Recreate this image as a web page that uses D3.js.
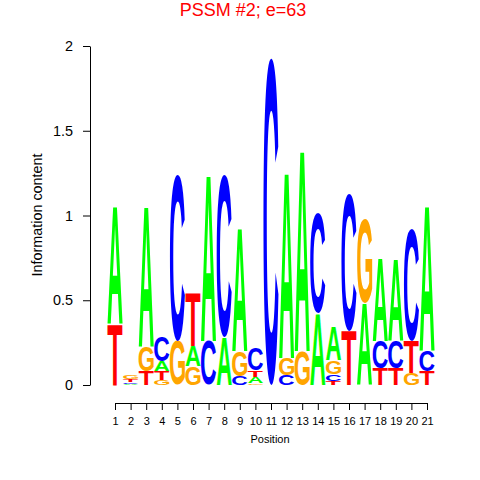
<!DOCTYPE html>
<meta charset="utf-8">
<head>
    <title>PSSM #2</title>
</head>
<style>
    body { margin: 0; background: white; }
    text { font-family: "Liberation Sans", Arial, sans-serif; }
    .axis path, .axis line { stroke: black; }
</style>
<body>
<script src="https://cdn.jsdelivr.net/npm/d3@7"></script>
<script>
    // information content per position, per base
    var positions = d3.range(1, 22);
    var baseA = [0.70, 0.008, 0.83, 0.06, 0, 0.12, 0.98, 0.28, 0.73, 0.035, 0, 1.10, 1.19, 0.42, 0.20, 0, 0.48, 0.49, 0.48, 0, 0.86];
    var baseC = [0, 0.01, 0, 0.15, 0.98, 0, 0.26, 0.96, 0.05, 0.13, 1.93, 0.06, 0, 0.59, 0.04, 0.81, 0, 0.16, 0.16, 0.66, 0.12];
    var baseG = [0, 0.02, 0.15, 0.03, 0.26, 0.11, 0, 0, 0.15, 0.01, 0, 0.10, 0.20, 0, 0.08, 0, 0.50, 0, 0, 0.07, 0];
    var baseT = [0.36, 0.015, 0.08, 0.05, 0, 0.31, 0, 0, 0, 0.04, 0, 0, 0, 0, 0.025, 0.32, 0, 0.10, 0.10, 0.19, 0.08];
    var yTicks = [0, 0.5, 1, 1.5, 2];

    var colors = { A: "#00ff00", C: "#0000ff", G: "#ffa500", T: "#ff0000" };

    var width = 480, height = 480;
    var svg = d3.select("body").append("svg")
        .attr("width", width)
        .attr("height", height);

    var x = d3.scaleLinear().domain([1, 21]).range([115, 427]);
    var y = d3.scaleLinear().domain([0, 2]).range([385, 46]);
    var colW = (x(2) - x(1)) * 0.97;

    // measure ink boxes of letters so they can be stretched to fill a cell
    var ctx = document.createElement("canvas").getContext("2d");
    ctx.font = "bold 100px 'Liberation Sans'";
    var metrics = {};
    ["A", "C", "G", "T"].forEach(function (l) {
        var m = ctx.measureText(l);
        metrics[l] = {
            left: m.actualBoundingBoxLeft, right: m.actualBoundingBoxRight,
            asc: m.actualBoundingBoxAscent, desc: m.actualBoundingBoxDescent
        };
    });

    var stacks = [];
    positions.forEach(function (p, i) {
        var col = [
            { l: "A", v: baseA[i] }, { l: "C", v: baseC[i] },
            { l: "G", v: baseG[i] }, { l: "T", v: baseT[i] }
        ].filter(function (d) { return d.v > 0; });
        col.sort(function (a, b) { return a.v - b.v; });
        var acc = 0;
        col.forEach(function (d) {
            stacks.push({ pos: p, l: d.l, y0: acc, y1: acc + d.v });
            acc += d.v;
        });
    });

    svg.append("g").selectAll("text")
        .data(stacks)
        .enter().append("text")
        .attr("font-size", 100)
        .attr("font-weight", "bold")
        .attr("fill", function (d) { return colors[d.l]; })
        .attr("transform", function (d) {
            var m = metrics[d.l];
            var h = y(d.y0) - y(d.y1);
            var sx = colW / (m.left + m.right);
            var sy = h / (m.asc + m.desc);
            return "translate(" + (x(d.pos) - colW / 2) + "," + y(d.y1) + ") scale(" + sx + "," + sy + ") translate(" + m.left + "," + m.asc + ")";
        })
        .text(function (d) { return d.l; });

    // x axis
    var gx = svg.append("g")
        .attr("class", "axis")
        .attr("transform", "translate(0,403)")
        .call(d3.axisBottom(x).tickValues(positions).tickSize(7).tickSizeOuter(7).tickFormat(d3.format("d")));
    gx.selectAll("text").attr("font-size", 11).attr("fill", "black").attr("y", 14).attr("dy", "0.71em");
    gx.attr("font-family", null);

    // y axis
    var gy = svg.append("g")
        .attr("class", "axis")
        .attr("transform", "translate(90,0)")
        .call(d3.axisLeft(y).tickValues(yTicks).tickSize(7).tickSizeOuter(0).tickFormat(d3.format("")));
    gy.selectAll("text").attr("font-size", 14.4).attr("fill", "black").attr("x", -17);
    gy.attr("font-family", null);

    svg.append("text")
        .attr("x", 270)
        .attr("y", 443)
        .attr("text-anchor", "middle")
        .attr("font-size", 11)
        .text("Position");

    svg.append("text")
        .attr("transform", "translate(42,215) rotate(-90)")
        .attr("text-anchor", "middle")
        .attr("font-size", 14.4)
        .text("Information content");

    svg.append("text")
        .attr("x", 243)
        .attr("y", 16)
        .attr("text-anchor", "middle")
        .attr("font-size", 18)
        .attr("fill", "red")
        .text("PSSM #2; e=63");
</script>
</body>
</html>
